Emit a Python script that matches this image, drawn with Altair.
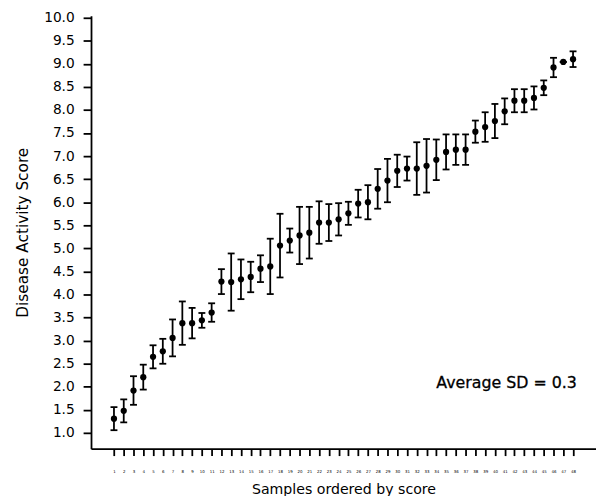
import altair as alt
import pandas as pd

# ---- data ----
sample = list(range(1, 49))
score = [1.31, 1.48, 1.92, 2.21, 2.65, 2.77, 3.06, 3.38, 3.38, 3.44,
         3.61, 4.28, 4.27, 4.33, 4.38, 4.56, 4.61, 5.06, 5.17, 5.28,
         5.34, 5.56, 5.56, 5.63, 5.76, 5.97, 6.00, 6.29, 6.47, 6.68,
         6.73, 6.73, 6.79, 6.92, 7.09, 7.14, 7.14, 7.53, 7.63, 7.76,
         7.97, 8.20, 8.20, 8.26, 8.48, 8.92, 9.04, 9.10]
sd = [0.25, 0.25, 0.31, 0.27, 0.25, 0.27, 0.40, 0.47, 0.33, 0.16,
      0.20, 0.27, 0.62, 0.43, 0.33, 0.29, 0.60, 0.69, 0.26, 0.62,
      0.56, 0.46, 0.40, 0.35, 0.25, 0.30, 0.37, 0.43, 0.47, 0.35,
      0.26, 0.57, 0.58, 0.44, 0.38, 0.33, 0.33, 0.24, 0.32, 0.37,
      0.28, 0.25, 0.25, 0.25, 0.16, 0.21, 0.00, 0.17]
y_ticks = [1.0, 1.5, 2.0, 2.5, 3.0, 3.5, 4.0, 4.5, 5.0, 5.5,
           6.0, 6.5, 7.0, 7.5, 8.0, 8.5, 9.0, 9.5, 10.0]
note_text = ["Average SD = 0.3"]
note_x = [34.0]
note_y = [2.08]

df = pd.DataFrame({"sample": sample, "score": score, "sd": sd})
df["lo"] = df["score"] - df["sd"]
df["hi"] = df["score"] + df["sd"]
notes = pd.DataFrame({"text": note_text, "x": note_x, "y": note_y})

FONT = "DejaVu Sans"

x_scale = alt.Scale(domain=[-1.35, 50.35], nice=False, zero=False)
y_scale = alt.Scale(domain=[0.66, 10.04], nice=False, zero=False)

x_axis = alt.Axis(values=sample, title="Samples ordered by score",
                  labelFontSize=4, labelOverlap=False, labelFlush=False,
                  tickSize=7, tickWidth=1.8, labelPadding=14,
                  titlePadding=9, titleFontSize=14.3)
y_axis = alt.Axis(values=y_ticks, format=".1f", title="Disease Activity Score",
                  labelFontSize=13.9, tickSize=8, tickWidth=1.8, labelPadding=9,
                  titlePadding=13, titleFontSize=15.5)

base = alt.Chart(df)
X = alt.X("sample:Q", scale=x_scale, axis=x_axis)

bars = base.mark_rule(color="black", strokeWidth=1.8).encode(
    x=X,
    y=alt.Y("lo:Q", scale=y_scale, axis=y_axis),
    y2="hi:Q",
)
cap_lo = base.mark_tick(color="black", orient="horizontal", size=7,
                        thickness=1.8, opacity=1).encode(
    x=X, y=alt.Y("lo:Q", scale=y_scale, axis=y_axis))
cap_hi = base.mark_tick(color="black", orient="horizontal", size=7,
                        thickness=1.8, opacity=1).encode(
    x=X, y=alt.Y("hi:Q", scale=y_scale, axis=y_axis))
points = base.mark_circle(color="black", size=40, opacity=1).encode(
    x=X, y=alt.Y("score:Q", scale=y_scale, axis=y_axis))

note = alt.Chart(notes).mark_text(align="left", baseline="middle",
                                  font=FONT, fontSize=16, color="#000",
                                  stroke="#000", strokeWidth=0.3).encode(
    x=alt.X("x:Q", scale=x_scale, axis=x_axis),
    y=alt.Y("y:Q", scale=y_scale, axis=y_axis),
    text="text:N",
)

chart = alt.layer(bars, cap_lo, cap_hi, points, note).properties(
    width=511, height=438,
    autosize=alt.AutoSizeParams(type="none"),
    padding={"left": 84, "top": 5, "right": 0, "bottom": 45},
).configure_view(stroke=None).configure_axis(
    grid=False, domainColor="black", domainWidth=1.8, tickColor="black",
    labelColor="#000", titleColor="#000", labelFont=FONT, titleFont=FONT,
    labelFontWeight="normal", titleFontWeight="normal",
)

chart.save("out.html", embed_options={"renderer": "svg", "actions": False})
